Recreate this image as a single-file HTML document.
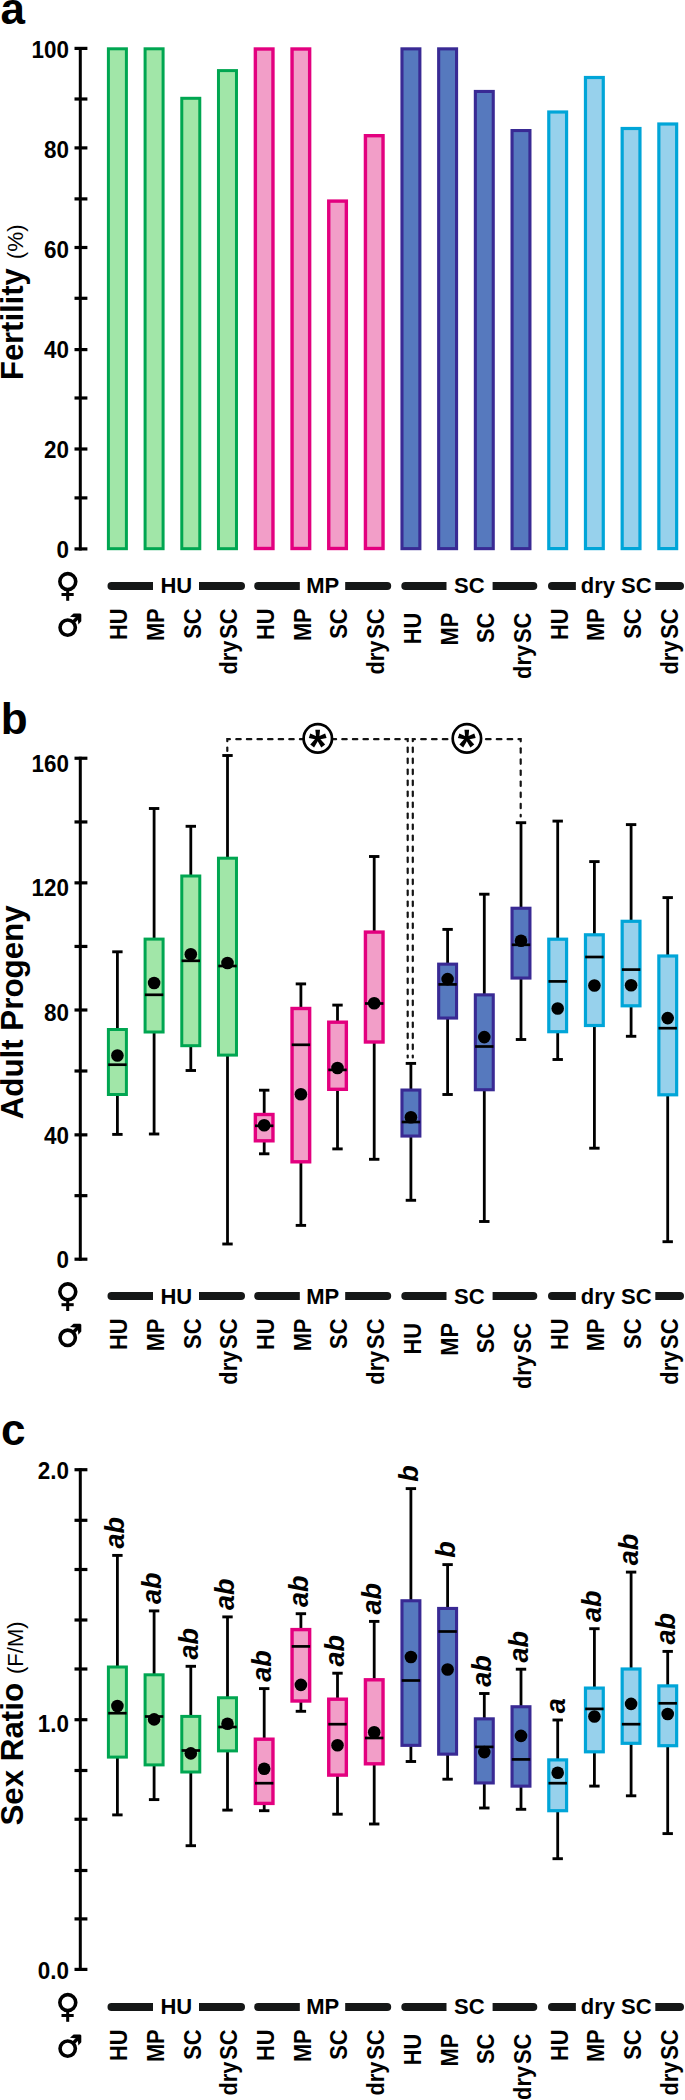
<!DOCTYPE html>
<html><head><meta charset="utf-8"><title>Figure</title><style>html,body{margin:0;padding:0;background:#fff;width:685px;height:2100px;overflow:hidden}svg{display:block}</style></head><body>
<svg width="685" height="2100" viewBox="0 0 685 2100">
<rect width="685" height="2100" fill="#fff"/>
<text x="0.6" y="23.6" style="font-family:'Liberation Sans',sans-serif;font-weight:bold;font-size:44px" fill="#000">a</text>
<text x="0.8" y="733.8" style="font-family:'Liberation Sans',sans-serif;font-weight:bold;font-size:44px" fill="#000">b</text>
<text x="1.0" y="1445.2" style="font-family:'Liberation Sans',sans-serif;font-weight:bold;font-size:44px" fill="#000">c</text>
<line x1="80.3" y1="46.9" x2="80.3" y2="550.4" stroke="#000" stroke-width="3"/>
<line x1="74.5" y1="548.90" x2="87.4" y2="548.90" stroke="#000" stroke-width="3.2"/>
<line x1="74.5" y1="497.90" x2="87.4" y2="497.90" stroke="#000" stroke-width="3.2"/>
<line x1="74.5" y1="449.00" x2="87.4" y2="449.00" stroke="#000" stroke-width="3.2"/>
<line x1="74.5" y1="398.00" x2="87.4" y2="398.00" stroke="#000" stroke-width="3.2"/>
<line x1="74.5" y1="349.60" x2="87.4" y2="349.60" stroke="#000" stroke-width="3.2"/>
<line x1="74.5" y1="298.30" x2="87.4" y2="298.30" stroke="#000" stroke-width="3.2"/>
<line x1="74.5" y1="247.50" x2="87.4" y2="247.50" stroke="#000" stroke-width="3.2"/>
<line x1="74.5" y1="198.90" x2="87.4" y2="198.90" stroke="#000" stroke-width="3.2"/>
<line x1="74.5" y1="147.90" x2="87.4" y2="147.90" stroke="#000" stroke-width="3.2"/>
<line x1="74.5" y1="99.00" x2="87.4" y2="99.00" stroke="#000" stroke-width="3.2"/>
<line x1="74.5" y1="48.40" x2="87.4" y2="48.40" stroke="#000" stroke-width="3.2"/>
<text transform="translate(68.9,558.4) scale(0.955,1)" text-anchor="end" style="font-family:'Liberation Sans',sans-serif;font-weight:bold;font-size:23.5px" fill="#000">0</text>
<text transform="translate(68.9,458.3) scale(0.955,1)" text-anchor="end" style="font-family:'Liberation Sans',sans-serif;font-weight:bold;font-size:23.5px" fill="#000">20</text>
<text transform="translate(68.9,358.2) scale(0.955,1)" text-anchor="end" style="font-family:'Liberation Sans',sans-serif;font-weight:bold;font-size:23.5px" fill="#000">40</text>
<text transform="translate(68.9,258.2) scale(0.955,1)" text-anchor="end" style="font-family:'Liberation Sans',sans-serif;font-weight:bold;font-size:23.5px" fill="#000">60</text>
<text transform="translate(68.9,158.1) scale(0.955,1)" text-anchor="end" style="font-family:'Liberation Sans',sans-serif;font-weight:bold;font-size:23.5px" fill="#000">80</text>
<text transform="translate(68.9,58.0) scale(0.955,1)" text-anchor="end" style="font-family:'Liberation Sans',sans-serif;font-weight:bold;font-size:23.5px" fill="#000">100</text>
<text transform="translate(22.6,380.0) rotate(-90) scale(0.982,1)" style="font-family:'Liberation Sans',sans-serif;font-weight:bold;font-size:31.5px" fill="#000">Fertility</text>
<text transform="translate(22.6,259.2) rotate(-90)" style="font-family:'Liberation Sans',sans-serif;font-size:22.5px" fill="#000">(%)</text>
<rect x="108.40" y="48.80" width="18.00" height="499.90" fill="#a1e6a8" stroke="#00a651" stroke-width="3.0"/>
<rect x="145.09" y="48.80" width="18.00" height="499.90" fill="#a1e6a8" stroke="#00a651" stroke-width="3.0"/>
<rect x="181.78" y="98.30" width="18.00" height="450.40" fill="#a1e6a8" stroke="#00a651" stroke-width="3.0"/>
<rect x="218.47" y="70.60" width="18.00" height="478.10" fill="#a1e6a8" stroke="#00a651" stroke-width="3.0"/>
<rect x="255.36" y="49.00" width="17.60" height="499.50" fill="#f29ec8" stroke="#e3007f" stroke-width="3.4"/>
<rect x="292.05" y="49.00" width="17.60" height="499.50" fill="#f29ec8" stroke="#e3007f" stroke-width="3.4"/>
<rect x="328.74" y="201.10" width="17.60" height="347.40" fill="#f29ec8" stroke="#e3007f" stroke-width="3.4"/>
<rect x="365.43" y="135.70" width="17.60" height="412.80" fill="#f29ec8" stroke="#e3007f" stroke-width="3.4"/>
<rect x="401.97" y="48.85" width="17.90" height="499.80" fill="#5679be" stroke="#392a94" stroke-width="3.1"/>
<rect x="438.66" y="48.85" width="17.90" height="499.80" fill="#5679be" stroke="#392a94" stroke-width="3.1"/>
<rect x="475.35" y="91.45" width="17.90" height="457.20" fill="#5679be" stroke="#392a94" stroke-width="3.1"/>
<rect x="512.04" y="130.55" width="17.90" height="418.10" fill="#5679be" stroke="#392a94" stroke-width="3.1"/>
<rect x="548.78" y="112.00" width="17.80" height="436.60" fill="#97d1ec" stroke="#00a5d8" stroke-width="3.2"/>
<rect x="585.47" y="77.50" width="17.80" height="471.10" fill="#97d1ec" stroke="#00a5d8" stroke-width="3.2"/>
<rect x="622.16" y="128.50" width="17.80" height="420.10" fill="#97d1ec" stroke="#00a5d8" stroke-width="3.2"/>
<rect x="658.85" y="124.00" width="17.80" height="424.60" fill="#97d1ec" stroke="#00a5d8" stroke-width="3.2"/>
<circle cx="67.8" cy="581.6" r="7.95" fill="none" stroke="#000" stroke-width="3.6"/>
<line x1="67.7" y1="590.6" x2="67.7" y2="600.8000000000001" stroke="#000" stroke-width="3"/>
<line x1="61.5" y1="594.5" x2="73.7" y2="594.5" stroke="#000" stroke-width="3"/>
<circle cx="67.7" cy="627.6" r="7.65" fill="none" stroke="#000" stroke-width="3.6"/>
<line x1="72.30" y1="623.00" x2="79.30" y2="616.00" stroke="#000" stroke-width="3.5"/>
<path d="M70.00 616.70 L73.60 613.50 L80.30 613.50 L81.30 614.50 L81.30 621.30 L78.40 624.50 L77.60 617.60 Z" fill="#000"/>
<path d="M153.0 581.9 L111.5 581.9 A4.0 4.0 0 0 0 111.5 589.9 L153.0 589.9 Z" fill="#151717"/>
<path d="M199.0 581.9 L241.0 581.9 A4.0 4.0 0 0 1 241.0 589.9 L199.0 589.9 Z" fill="#151717"/>
<text x="176.3" y="593.4" text-anchor="middle" style="font-family:'Liberation Sans',sans-serif;font-weight:bold;font-size:22px" fill="#000">HU</text>
<path d="M299.8 581.9 L258.2 581.9 A4.0 4.0 0 0 0 258.2 589.9 L299.8 589.9 Z" fill="#151717"/>
<path d="M345.2 581.9 L387.2 581.9 A4.0 4.0 0 0 1 387.2 589.9 L345.2 589.9 Z" fill="#151717"/>
<text x="322.65" y="593.4" text-anchor="middle" style="font-family:'Liberation Sans',sans-serif;font-weight:bold;font-size:22px" fill="#000">MP</text>
<path d="M446.5 581.9 L405.3 581.9 A4.0 4.0 0 0 0 405.3 589.9 L446.5 589.9 Z" fill="#151717"/>
<path d="M492.6 581.9 L533.3 581.9 A4.0 4.0 0 0 1 533.3 589.9 L492.6 589.9 Z" fill="#151717"/>
<text x="469.3" y="593.4" text-anchor="middle" style="font-family:'Liberation Sans',sans-serif;font-weight:bold;font-size:22px" fill="#000">SC</text>
<path d="M575.9 581.9 L552.0 581.9 A4.0 4.0 0 0 0 552.0 589.9 L575.9 589.9 Z" fill="#151717"/>
<path d="M655.3 581.9 L680.0 581.9 A4.0 4.0 0 0 1 680.0 589.9 L655.3 589.9 Z" fill="#151717"/>
<text x="616.15" y="593.4" text-anchor="middle" style="font-family:'Liberation Sans',sans-serif;font-weight:bold;font-size:22px" fill="#000">dry SC</text>
<text transform="translate(127.3,608.4) rotate(-90) scale(0.94,1)" text-anchor="end" style="font-family:'Liberation Sans',sans-serif;font-weight:bold;font-size:23.2px" fill="#000">HU</text>
<text transform="translate(164.0,608.4) rotate(-90) scale(0.94,1)" text-anchor="end" style="font-family:'Liberation Sans',sans-serif;font-weight:bold;font-size:23.2px" fill="#000">MP</text>
<text transform="translate(200.7,608.4) rotate(-90) scale(0.94,1)" text-anchor="end" style="font-family:'Liberation Sans',sans-serif;font-weight:bold;font-size:23.2px" fill="#000">SC</text>
<text transform="translate(237.4,608.4) rotate(-90) scale(0.94,1)" text-anchor="end" style="font-family:'Liberation Sans',sans-serif;font-weight:bold;font-size:23.2px" fill="#000">dry<tspan dx="2">SC</tspan></text>
<text transform="translate(274.1,608.4) rotate(-90) scale(0.94,1)" text-anchor="end" style="font-family:'Liberation Sans',sans-serif;font-weight:bold;font-size:23.2px" fill="#000">HU</text>
<text transform="translate(310.8,608.4) rotate(-90) scale(0.94,1)" text-anchor="end" style="font-family:'Liberation Sans',sans-serif;font-weight:bold;font-size:23.2px" fill="#000">MP</text>
<text transform="translate(347.4,608.4) rotate(-90) scale(0.94,1)" text-anchor="end" style="font-family:'Liberation Sans',sans-serif;font-weight:bold;font-size:23.2px" fill="#000">SC</text>
<text transform="translate(384.1,608.4) rotate(-90) scale(0.94,1)" text-anchor="end" style="font-family:'Liberation Sans',sans-serif;font-weight:bold;font-size:23.2px" fill="#000">dry<tspan dx="2">SC</tspan></text>
<text transform="translate(420.8,612.8) rotate(-90) scale(0.94,1)" text-anchor="end" style="font-family:'Liberation Sans',sans-serif;font-weight:bold;font-size:23.2px" fill="#000">HU</text>
<text transform="translate(457.5,612.8) rotate(-90) scale(0.94,1)" text-anchor="end" style="font-family:'Liberation Sans',sans-serif;font-weight:bold;font-size:23.2px" fill="#000">MP</text>
<text transform="translate(494.2,612.8) rotate(-90) scale(0.94,1)" text-anchor="end" style="font-family:'Liberation Sans',sans-serif;font-weight:bold;font-size:23.2px" fill="#000">SC</text>
<text transform="translate(530.9,612.8) rotate(-90) scale(0.94,1)" text-anchor="end" style="font-family:'Liberation Sans',sans-serif;font-weight:bold;font-size:23.2px" fill="#000">dry<tspan dx="2">SC</tspan></text>
<text transform="translate(567.6,608.4) rotate(-90) scale(0.94,1)" text-anchor="end" style="font-family:'Liberation Sans',sans-serif;font-weight:bold;font-size:23.2px" fill="#000">HU</text>
<text transform="translate(604.3,608.4) rotate(-90) scale(0.94,1)" text-anchor="end" style="font-family:'Liberation Sans',sans-serif;font-weight:bold;font-size:23.2px" fill="#000">MP</text>
<text transform="translate(641.0,608.4) rotate(-90) scale(0.94,1)" text-anchor="end" style="font-family:'Liberation Sans',sans-serif;font-weight:bold;font-size:23.2px" fill="#000">SC</text>
<text transform="translate(677.6,608.4) rotate(-90) scale(0.94,1)" text-anchor="end" style="font-family:'Liberation Sans',sans-serif;font-weight:bold;font-size:23.2px" fill="#000">dry<tspan dx="2">SC</tspan></text>
<line x1="80.3" y1="756.8" x2="80.3" y2="1260.7" stroke="#000" stroke-width="3"/>
<line x1="74.5" y1="1259.20" x2="87.4" y2="1259.20" stroke="#000" stroke-width="3.2"/>
<line x1="74.5" y1="1195.66" x2="87.4" y2="1195.66" stroke="#000" stroke-width="3.2"/>
<line x1="74.5" y1="1134.85" x2="87.4" y2="1134.85" stroke="#000" stroke-width="3.2"/>
<line x1="74.5" y1="1071.00" x2="87.4" y2="1071.00" stroke="#000" stroke-width="3.2"/>
<line x1="74.5" y1="1010.00" x2="87.4" y2="1010.00" stroke="#000" stroke-width="3.2"/>
<line x1="74.5" y1="946.45" x2="87.4" y2="946.45" stroke="#000" stroke-width="3.2"/>
<line x1="74.5" y1="882.85" x2="87.4" y2="882.85" stroke="#000" stroke-width="3.2"/>
<line x1="74.5" y1="821.95" x2="87.4" y2="821.95" stroke="#000" stroke-width="3.2"/>
<line x1="74.5" y1="758.25" x2="87.4" y2="758.25" stroke="#000" stroke-width="3.2"/>
<text transform="translate(68.9,771.9) scale(0.955,1)" text-anchor="end" style="font-family:'Liberation Sans',sans-serif;font-weight:bold;font-size:23.5px" fill="#000">160</text>
<text transform="translate(68.9,896.3) scale(0.955,1)" text-anchor="end" style="font-family:'Liberation Sans',sans-serif;font-weight:bold;font-size:23.5px" fill="#000">120</text>
<text transform="translate(68.9,1020.5) scale(0.955,1)" text-anchor="end" style="font-family:'Liberation Sans',sans-serif;font-weight:bold;font-size:23.5px" fill="#000">80</text>
<text transform="translate(68.9,1144.4) scale(0.955,1)" text-anchor="end" style="font-family:'Liberation Sans',sans-serif;font-weight:bold;font-size:23.5px" fill="#000">40</text>
<text transform="translate(68.9,1268.3) scale(0.955,1)" text-anchor="end" style="font-family:'Liberation Sans',sans-serif;font-weight:bold;font-size:23.5px" fill="#000">0</text>
<text transform="translate(22.9,1119.3) rotate(-90)" style="font-family:'Liberation Sans',sans-serif;font-weight:bold;font-size:31.3px" fill="#000">Adult Progeny</text>
<path d="M229.9 739.2 L227.3 739.2 L227.3 741.1999999999999" fill="none" stroke="#141414" stroke-width="2.2" stroke-linecap="round"/>
<line x1="227.3" y1="747.50" x2="227.3" y2="750.90" stroke="#141414" stroke-width="2.2" stroke-linecap="round"/>
<line x1="236.30" y1="739.2" x2="240.70" y2="739.2" stroke="#141414" stroke-width="2.2" stroke-linecap="round"/>
<line x1="246.90" y1="739.2" x2="251.30" y2="739.2" stroke="#141414" stroke-width="2.2" stroke-linecap="round"/>
<line x1="257.50" y1="739.2" x2="261.90" y2="739.2" stroke="#141414" stroke-width="2.2" stroke-linecap="round"/>
<line x1="268.10" y1="739.2" x2="272.50" y2="739.2" stroke="#141414" stroke-width="2.2" stroke-linecap="round"/>
<line x1="278.70" y1="739.2" x2="283.10" y2="739.2" stroke="#141414" stroke-width="2.2" stroke-linecap="round"/>
<line x1="289.30" y1="739.2" x2="293.70" y2="739.2" stroke="#141414" stroke-width="2.2" stroke-linecap="round"/>
<line x1="299.90" y1="739.2" x2="304.30" y2="739.2" stroke="#141414" stroke-width="2.2" stroke-linecap="round"/>
<line x1="310.50" y1="739.2" x2="314.90" y2="739.2" stroke="#141414" stroke-width="2.2" stroke-linecap="round"/>
<line x1="321.10" y1="739.2" x2="325.50" y2="739.2" stroke="#141414" stroke-width="2.2" stroke-linecap="round"/>
<line x1="331.70" y1="739.2" x2="336.10" y2="739.2" stroke="#141414" stroke-width="2.2" stroke-linecap="round"/>
<line x1="342.30" y1="739.2" x2="346.70" y2="739.2" stroke="#141414" stroke-width="2.2" stroke-linecap="round"/>
<line x1="352.90" y1="739.2" x2="357.30" y2="739.2" stroke="#141414" stroke-width="2.2" stroke-linecap="round"/>
<line x1="363.50" y1="739.2" x2="367.90" y2="739.2" stroke="#141414" stroke-width="2.2" stroke-linecap="round"/>
<line x1="374.10" y1="739.2" x2="378.50" y2="739.2" stroke="#141414" stroke-width="2.2" stroke-linecap="round"/>
<line x1="384.70" y1="739.2" x2="389.10" y2="739.2" stroke="#141414" stroke-width="2.2" stroke-linecap="round"/>
<line x1="395.30" y1="739.2" x2="399.70" y2="739.2" stroke="#141414" stroke-width="2.2" stroke-linecap="round"/>
<path d="M405.40000000000003 739.2 L407.7 739.2 L407.7 741.1999999999999" fill="none" stroke="#141414" stroke-width="2.2" stroke-linecap="round"/>
<line x1="407.7" y1="747.60" x2="407.7" y2="752.10" stroke="#141414" stroke-width="2.2" stroke-linecap="round"/>
<line x1="407.7" y1="758.60" x2="407.7" y2="763.10" stroke="#141414" stroke-width="2.2" stroke-linecap="round"/>
<line x1="407.7" y1="769.60" x2="407.7" y2="774.10" stroke="#141414" stroke-width="2.2" stroke-linecap="round"/>
<line x1="407.7" y1="780.60" x2="407.7" y2="785.10" stroke="#141414" stroke-width="2.2" stroke-linecap="round"/>
<line x1="407.7" y1="791.60" x2="407.7" y2="796.10" stroke="#141414" stroke-width="2.2" stroke-linecap="round"/>
<line x1="407.7" y1="802.60" x2="407.7" y2="807.10" stroke="#141414" stroke-width="2.2" stroke-linecap="round"/>
<line x1="407.7" y1="813.60" x2="407.7" y2="818.10" stroke="#141414" stroke-width="2.2" stroke-linecap="round"/>
<line x1="407.7" y1="824.60" x2="407.7" y2="829.10" stroke="#141414" stroke-width="2.2" stroke-linecap="round"/>
<line x1="407.7" y1="835.60" x2="407.7" y2="840.10" stroke="#141414" stroke-width="2.2" stroke-linecap="round"/>
<line x1="407.7" y1="846.60" x2="407.7" y2="851.10" stroke="#141414" stroke-width="2.2" stroke-linecap="round"/>
<line x1="407.7" y1="857.60" x2="407.7" y2="862.10" stroke="#141414" stroke-width="2.2" stroke-linecap="round"/>
<line x1="407.7" y1="868.60" x2="407.7" y2="873.10" stroke="#141414" stroke-width="2.2" stroke-linecap="round"/>
<line x1="407.7" y1="879.60" x2="407.7" y2="884.10" stroke="#141414" stroke-width="2.2" stroke-linecap="round"/>
<line x1="407.7" y1="890.60" x2="407.7" y2="895.10" stroke="#141414" stroke-width="2.2" stroke-linecap="round"/>
<line x1="407.7" y1="901.60" x2="407.7" y2="906.10" stroke="#141414" stroke-width="2.2" stroke-linecap="round"/>
<line x1="407.7" y1="912.60" x2="407.7" y2="917.10" stroke="#141414" stroke-width="2.2" stroke-linecap="round"/>
<line x1="407.7" y1="923.60" x2="407.7" y2="928.10" stroke="#141414" stroke-width="2.2" stroke-linecap="round"/>
<line x1="407.7" y1="934.60" x2="407.7" y2="939.10" stroke="#141414" stroke-width="2.2" stroke-linecap="round"/>
<line x1="407.7" y1="945.60" x2="407.7" y2="950.10" stroke="#141414" stroke-width="2.2" stroke-linecap="round"/>
<line x1="407.7" y1="956.60" x2="407.7" y2="961.10" stroke="#141414" stroke-width="2.2" stroke-linecap="round"/>
<line x1="407.7" y1="967.60" x2="407.7" y2="972.10" stroke="#141414" stroke-width="2.2" stroke-linecap="round"/>
<line x1="407.7" y1="978.60" x2="407.7" y2="983.10" stroke="#141414" stroke-width="2.2" stroke-linecap="round"/>
<line x1="407.7" y1="989.60" x2="407.7" y2="994.10" stroke="#141414" stroke-width="2.2" stroke-linecap="round"/>
<line x1="407.7" y1="1000.60" x2="407.7" y2="1005.10" stroke="#141414" stroke-width="2.2" stroke-linecap="round"/>
<line x1="407.7" y1="1011.60" x2="407.7" y2="1016.10" stroke="#141414" stroke-width="2.2" stroke-linecap="round"/>
<line x1="407.7" y1="1022.60" x2="407.7" y2="1027.10" stroke="#141414" stroke-width="2.2" stroke-linecap="round"/>
<line x1="407.7" y1="1033.60" x2="407.7" y2="1038.10" stroke="#141414" stroke-width="2.2" stroke-linecap="round"/>
<line x1="407.7" y1="1044.60" x2="407.7" y2="1049.10" stroke="#141414" stroke-width="2.2" stroke-linecap="round"/>
<line x1="407.7" y1="1055.60" x2="407.7" y2="1057.50" stroke="#141414" stroke-width="2.2" stroke-linecap="round"/>
<path d="M414.9 739.2 L412.8 739.2 L412.8 741.1999999999999" fill="none" stroke="#141414" stroke-width="2.2" stroke-linecap="round"/>
<line x1="412.8" y1="747.60" x2="412.8" y2="752.10" stroke="#141414" stroke-width="2.2" stroke-linecap="round"/>
<line x1="412.8" y1="758.60" x2="412.8" y2="763.10" stroke="#141414" stroke-width="2.2" stroke-linecap="round"/>
<line x1="412.8" y1="769.60" x2="412.8" y2="774.10" stroke="#141414" stroke-width="2.2" stroke-linecap="round"/>
<line x1="412.8" y1="780.60" x2="412.8" y2="785.10" stroke="#141414" stroke-width="2.2" stroke-linecap="round"/>
<line x1="412.8" y1="791.60" x2="412.8" y2="796.10" stroke="#141414" stroke-width="2.2" stroke-linecap="round"/>
<line x1="412.8" y1="802.60" x2="412.8" y2="807.10" stroke="#141414" stroke-width="2.2" stroke-linecap="round"/>
<line x1="412.8" y1="813.60" x2="412.8" y2="818.10" stroke="#141414" stroke-width="2.2" stroke-linecap="round"/>
<line x1="412.8" y1="824.60" x2="412.8" y2="829.10" stroke="#141414" stroke-width="2.2" stroke-linecap="round"/>
<line x1="412.8" y1="835.60" x2="412.8" y2="840.10" stroke="#141414" stroke-width="2.2" stroke-linecap="round"/>
<line x1="412.8" y1="846.60" x2="412.8" y2="851.10" stroke="#141414" stroke-width="2.2" stroke-linecap="round"/>
<line x1="412.8" y1="857.60" x2="412.8" y2="862.10" stroke="#141414" stroke-width="2.2" stroke-linecap="round"/>
<line x1="412.8" y1="868.60" x2="412.8" y2="873.10" stroke="#141414" stroke-width="2.2" stroke-linecap="round"/>
<line x1="412.8" y1="879.60" x2="412.8" y2="884.10" stroke="#141414" stroke-width="2.2" stroke-linecap="round"/>
<line x1="412.8" y1="890.60" x2="412.8" y2="895.10" stroke="#141414" stroke-width="2.2" stroke-linecap="round"/>
<line x1="412.8" y1="901.60" x2="412.8" y2="906.10" stroke="#141414" stroke-width="2.2" stroke-linecap="round"/>
<line x1="412.8" y1="912.60" x2="412.8" y2="917.10" stroke="#141414" stroke-width="2.2" stroke-linecap="round"/>
<line x1="412.8" y1="923.60" x2="412.8" y2="928.10" stroke="#141414" stroke-width="2.2" stroke-linecap="round"/>
<line x1="412.8" y1="934.60" x2="412.8" y2="939.10" stroke="#141414" stroke-width="2.2" stroke-linecap="round"/>
<line x1="412.8" y1="945.60" x2="412.8" y2="950.10" stroke="#141414" stroke-width="2.2" stroke-linecap="round"/>
<line x1="412.8" y1="956.60" x2="412.8" y2="961.10" stroke="#141414" stroke-width="2.2" stroke-linecap="round"/>
<line x1="412.8" y1="967.60" x2="412.8" y2="972.10" stroke="#141414" stroke-width="2.2" stroke-linecap="round"/>
<line x1="412.8" y1="978.60" x2="412.8" y2="983.10" stroke="#141414" stroke-width="2.2" stroke-linecap="round"/>
<line x1="412.8" y1="989.60" x2="412.8" y2="994.10" stroke="#141414" stroke-width="2.2" stroke-linecap="round"/>
<line x1="412.8" y1="1000.60" x2="412.8" y2="1005.10" stroke="#141414" stroke-width="2.2" stroke-linecap="round"/>
<line x1="412.8" y1="1011.60" x2="412.8" y2="1016.10" stroke="#141414" stroke-width="2.2" stroke-linecap="round"/>
<line x1="412.8" y1="1022.60" x2="412.8" y2="1027.10" stroke="#141414" stroke-width="2.2" stroke-linecap="round"/>
<line x1="412.8" y1="1033.60" x2="412.8" y2="1038.10" stroke="#141414" stroke-width="2.2" stroke-linecap="round"/>
<line x1="412.8" y1="1044.60" x2="412.8" y2="1049.10" stroke="#141414" stroke-width="2.2" stroke-linecap="round"/>
<line x1="412.8" y1="1055.60" x2="412.8" y2="1057.50" stroke="#141414" stroke-width="2.2" stroke-linecap="round"/>
<line x1="421.20" y1="739.2" x2="425.80" y2="739.2" stroke="#141414" stroke-width="2.2" stroke-linecap="round"/>
<line x1="432.00" y1="739.2" x2="436.60" y2="739.2" stroke="#141414" stroke-width="2.2" stroke-linecap="round"/>
<line x1="442.80" y1="739.2" x2="447.40" y2="739.2" stroke="#141414" stroke-width="2.2" stroke-linecap="round"/>
<line x1="453.60" y1="739.2" x2="458.20" y2="739.2" stroke="#141414" stroke-width="2.2" stroke-linecap="round"/>
<line x1="464.40" y1="739.2" x2="469.00" y2="739.2" stroke="#141414" stroke-width="2.2" stroke-linecap="round"/>
<line x1="475.20" y1="739.2" x2="479.80" y2="739.2" stroke="#141414" stroke-width="2.2" stroke-linecap="round"/>
<line x1="486.00" y1="739.2" x2="490.60" y2="739.2" stroke="#141414" stroke-width="2.2" stroke-linecap="round"/>
<line x1="496.80" y1="739.2" x2="501.40" y2="739.2" stroke="#141414" stroke-width="2.2" stroke-linecap="round"/>
<line x1="507.60" y1="739.2" x2="512.20" y2="739.2" stroke="#141414" stroke-width="2.2" stroke-linecap="round"/>
<path d="M518.5 739.2 L520.7 739.2 L520.7 741.3" fill="none" stroke="#141414" stroke-width="2.2" stroke-linecap="round"/>
<line x1="520.7" y1="748.30" x2="520.7" y2="752.70" stroke="#141414" stroke-width="2.2" stroke-linecap="round"/>
<line x1="520.7" y1="759.40" x2="520.7" y2="763.80" stroke="#141414" stroke-width="2.2" stroke-linecap="round"/>
<line x1="520.7" y1="770.50" x2="520.7" y2="774.90" stroke="#141414" stroke-width="2.2" stroke-linecap="round"/>
<line x1="520.7" y1="781.60" x2="520.7" y2="786.00" stroke="#141414" stroke-width="2.2" stroke-linecap="round"/>
<line x1="520.7" y1="792.70" x2="520.7" y2="797.10" stroke="#141414" stroke-width="2.2" stroke-linecap="round"/>
<line x1="520.7" y1="803.80" x2="520.7" y2="808.20" stroke="#141414" stroke-width="2.2" stroke-linecap="round"/>
<line x1="520.7" y1="814.90" x2="520.7" y2="816.50" stroke="#141414" stroke-width="2.2" stroke-linecap="round"/>
<circle cx="317.8" cy="738.4" r="14.2" fill="#fff" stroke="#000" stroke-width="2.7"/>
<path d="M319.20 738.40 L320.05 729.70 L315.35 729.70 L316.20 738.40 Z" fill="#000"/>
<path d="M318.16 739.83 L326.61 737.98 L325.15 733.51 L317.24 736.97 Z" fill="#000"/>
<path d="M318.16 736.97 L310.25 733.51 L308.79 737.98 L317.24 739.83 Z" fill="#000"/>
<path d="M316.49 739.28 L321.32 747.39 L325.13 744.62 L318.91 737.52 Z" fill="#000"/>
<path d="M316.49 737.52 L310.27 744.62 L314.08 747.39 L318.91 739.28 Z" fill="#000"/>
<circle cx="317.7" cy="738.4" r="2" fill="#000"/>
<circle cx="466.9" cy="738.4" r="14.2" fill="#fff" stroke="#000" stroke-width="2.7"/>
<path d="M468.30 738.40 L469.15 729.70 L464.45 729.70 L465.30 738.40 Z" fill="#000"/>
<path d="M467.26 739.83 L475.71 737.98 L474.25 733.51 L466.34 736.97 Z" fill="#000"/>
<path d="M467.26 736.97 L459.35 733.51 L457.89 737.98 L466.34 739.83 Z" fill="#000"/>
<path d="M465.59 739.28 L470.42 747.39 L474.23 744.62 L468.01 737.52 Z" fill="#000"/>
<path d="M465.59 737.52 L459.37 744.62 L463.18 747.39 L468.01 739.28 Z" fill="#000"/>
<circle cx="466.79999999999995" cy="738.4" r="2" fill="#000"/>
<line x1="117.4" y1="951.8" x2="117.4" y2="1029.0" stroke="#000" stroke-width="2.8"/>
<line x1="117.4" y1="1095.0" x2="117.4" y2="1134.4" stroke="#000" stroke-width="2.8"/>
<line x1="112.2" y1="951.8" x2="122.6" y2="951.8" stroke="#000" stroke-width="2.9"/>
<line x1="112.2" y1="1134.4" x2="122.6" y2="1134.4" stroke="#000" stroke-width="2.9"/>
<rect x="108.40" y="1029.50" width="18.00" height="65.00" fill="#a1e6a8" stroke="#00a651" stroke-width="3.0"/>
<line x1="108.2" y1="1064.7" x2="126.6" y2="1064.7" stroke="#000" stroke-width="2.7"/>
<circle cx="117.4" cy="1055.5" r="6.3" fill="#000"/>
<line x1="154.1" y1="808.5" x2="154.1" y2="938.6" stroke="#000" stroke-width="2.8"/>
<line x1="154.1" y1="1032.5" x2="154.1" y2="1134.0" stroke="#000" stroke-width="2.8"/>
<line x1="148.9" y1="808.5" x2="159.3" y2="808.5" stroke="#000" stroke-width="2.9"/>
<line x1="148.9" y1="1134.0" x2="159.3" y2="1134.0" stroke="#000" stroke-width="2.9"/>
<rect x="145.09" y="939.10" width="18.00" height="92.90" fill="#a1e6a8" stroke="#00a651" stroke-width="3.0"/>
<line x1="144.9" y1="994.8" x2="163.3" y2="994.8" stroke="#000" stroke-width="2.7"/>
<circle cx="154.1" cy="983.0" r="6.3" fill="#000"/>
<line x1="190.8" y1="826.3" x2="190.8" y2="875.5" stroke="#000" stroke-width="2.8"/>
<line x1="190.8" y1="1046.2" x2="190.8" y2="1070.5" stroke="#000" stroke-width="2.8"/>
<line x1="185.6" y1="826.3" x2="196.0" y2="826.3" stroke="#000" stroke-width="2.9"/>
<line x1="185.6" y1="1070.5" x2="196.0" y2="1070.5" stroke="#000" stroke-width="2.9"/>
<rect x="181.78" y="876.00" width="18.00" height="169.70" fill="#a1e6a8" stroke="#00a651" stroke-width="3.0"/>
<line x1="181.6" y1="960.8" x2="200.0" y2="960.8" stroke="#000" stroke-width="2.7"/>
<circle cx="190.8" cy="954.3" r="6.3" fill="#000"/>
<line x1="227.5" y1="755.5" x2="227.5" y2="857.7" stroke="#000" stroke-width="2.8"/>
<line x1="227.5" y1="1055.6" x2="227.5" y2="1244.0" stroke="#000" stroke-width="2.8"/>
<line x1="222.3" y1="755.5" x2="232.7" y2="755.5" stroke="#000" stroke-width="2.9"/>
<line x1="222.3" y1="1244.0" x2="232.7" y2="1244.0" stroke="#000" stroke-width="2.9"/>
<rect x="218.47" y="858.20" width="18.00" height="196.90" fill="#a1e6a8" stroke="#00a651" stroke-width="3.0"/>
<line x1="218.3" y1="966.0" x2="236.7" y2="966.0" stroke="#000" stroke-width="2.7"/>
<circle cx="227.5" cy="963.0" r="6.3" fill="#000"/>
<line x1="264.2" y1="1090.2" x2="264.2" y2="1113.8" stroke="#000" stroke-width="2.8"/>
<line x1="264.2" y1="1141.5" x2="264.2" y2="1153.8" stroke="#000" stroke-width="2.8"/>
<line x1="259.0" y1="1090.2" x2="269.4" y2="1090.2" stroke="#000" stroke-width="2.9"/>
<line x1="259.0" y1="1153.8" x2="269.4" y2="1153.8" stroke="#000" stroke-width="2.9"/>
<rect x="255.36" y="1114.50" width="17.60" height="26.30" fill="#f29ec8" stroke="#e3007f" stroke-width="3.4"/>
<line x1="255.0" y1="1125.8" x2="273.4" y2="1125.8" stroke="#000" stroke-width="2.7"/>
<circle cx="264.2" cy="1125.3" r="6.3" fill="#000"/>
<line x1="300.9" y1="983.9" x2="300.9" y2="1007.8" stroke="#000" stroke-width="2.8"/>
<line x1="300.9" y1="1162.5" x2="300.9" y2="1225.4" stroke="#000" stroke-width="2.8"/>
<line x1="295.7" y1="983.9" x2="306.1" y2="983.9" stroke="#000" stroke-width="2.9"/>
<line x1="295.7" y1="1225.4" x2="306.1" y2="1225.4" stroke="#000" stroke-width="2.9"/>
<rect x="292.05" y="1008.50" width="17.60" height="153.30" fill="#f29ec8" stroke="#e3007f" stroke-width="3.4"/>
<line x1="291.7" y1="1044.8" x2="310.1" y2="1044.8" stroke="#000" stroke-width="2.7"/>
<circle cx="300.9" cy="1094.2" r="6.3" fill="#000"/>
<line x1="337.5" y1="1005.1" x2="337.5" y2="1021.5" stroke="#000" stroke-width="2.8"/>
<line x1="337.5" y1="1090.0" x2="337.5" y2="1148.9" stroke="#000" stroke-width="2.8"/>
<line x1="332.3" y1="1005.1" x2="342.7" y2="1005.1" stroke="#000" stroke-width="2.9"/>
<line x1="332.3" y1="1148.9" x2="342.7" y2="1148.9" stroke="#000" stroke-width="2.9"/>
<rect x="328.74" y="1022.20" width="17.60" height="67.10" fill="#f29ec8" stroke="#e3007f" stroke-width="3.4"/>
<line x1="328.3" y1="1069.9" x2="346.7" y2="1069.9" stroke="#000" stroke-width="2.7"/>
<circle cx="337.5" cy="1068.0" r="6.3" fill="#000"/>
<line x1="374.2" y1="856.5" x2="374.2" y2="931.4" stroke="#000" stroke-width="2.8"/>
<line x1="374.2" y1="1042.7" x2="374.2" y2="1159.3" stroke="#000" stroke-width="2.8"/>
<line x1="369.0" y1="856.5" x2="379.4" y2="856.5" stroke="#000" stroke-width="2.9"/>
<line x1="369.0" y1="1159.3" x2="379.4" y2="1159.3" stroke="#000" stroke-width="2.9"/>
<rect x="365.43" y="932.10" width="17.60" height="109.90" fill="#f29ec8" stroke="#e3007f" stroke-width="3.4"/>
<line x1="365.0" y1="1003.5" x2="383.4" y2="1003.5" stroke="#000" stroke-width="2.7"/>
<circle cx="374.2" cy="1003.2" r="6.3" fill="#000"/>
<line x1="410.9" y1="1063.4" x2="410.9" y2="1089.5" stroke="#000" stroke-width="2.8"/>
<line x1="410.9" y1="1136.6" x2="410.9" y2="1200.3" stroke="#000" stroke-width="2.8"/>
<line x1="405.7" y1="1063.4" x2="416.1" y2="1063.4" stroke="#000" stroke-width="2.9"/>
<line x1="405.7" y1="1200.3" x2="416.1" y2="1200.3" stroke="#000" stroke-width="2.9"/>
<rect x="401.97" y="1090.05" width="17.90" height="46.00" fill="#5679be" stroke="#392a94" stroke-width="3.1"/>
<line x1="401.7" y1="1122.0" x2="420.1" y2="1122.0" stroke="#000" stroke-width="2.7"/>
<circle cx="410.9" cy="1117.2" r="6.3" fill="#000"/>
<line x1="447.6" y1="929.4" x2="447.6" y2="963.6" stroke="#000" stroke-width="2.8"/>
<line x1="447.6" y1="1018.6" x2="447.6" y2="1094.5" stroke="#000" stroke-width="2.8"/>
<line x1="442.4" y1="929.4" x2="452.8" y2="929.4" stroke="#000" stroke-width="2.9"/>
<line x1="442.4" y1="1094.5" x2="452.8" y2="1094.5" stroke="#000" stroke-width="2.9"/>
<rect x="438.66" y="964.15" width="17.90" height="53.90" fill="#5679be" stroke="#392a94" stroke-width="3.1"/>
<line x1="438.4" y1="984.4" x2="456.8" y2="984.4" stroke="#000" stroke-width="2.7"/>
<circle cx="447.6" cy="979.1" r="6.3" fill="#000"/>
<line x1="484.3" y1="894.2" x2="484.3" y2="994.3" stroke="#000" stroke-width="2.8"/>
<line x1="484.3" y1="1090.3" x2="484.3" y2="1221.5" stroke="#000" stroke-width="2.8"/>
<line x1="479.1" y1="894.2" x2="489.5" y2="894.2" stroke="#000" stroke-width="2.9"/>
<line x1="479.1" y1="1221.5" x2="489.5" y2="1221.5" stroke="#000" stroke-width="2.9"/>
<rect x="475.35" y="994.85" width="17.90" height="94.90" fill="#5679be" stroke="#392a94" stroke-width="3.1"/>
<line x1="475.1" y1="1046.5" x2="493.5" y2="1046.5" stroke="#000" stroke-width="2.7"/>
<circle cx="484.3" cy="1037.1" r="6.3" fill="#000"/>
<line x1="521.0" y1="822.7" x2="521.0" y2="907.7" stroke="#000" stroke-width="2.8"/>
<line x1="521.0" y1="978.6" x2="521.0" y2="1039.5" stroke="#000" stroke-width="2.8"/>
<line x1="515.8" y1="822.7" x2="526.2" y2="822.7" stroke="#000" stroke-width="2.9"/>
<line x1="515.8" y1="1039.5" x2="526.2" y2="1039.5" stroke="#000" stroke-width="2.9"/>
<rect x="512.04" y="908.25" width="17.90" height="69.80" fill="#5679be" stroke="#392a94" stroke-width="3.1"/>
<line x1="511.8" y1="944.8" x2="530.2" y2="944.8" stroke="#000" stroke-width="2.7"/>
<circle cx="521.0" cy="940.7" r="6.3" fill="#000"/>
<line x1="557.7" y1="821.1" x2="557.7" y2="938.6" stroke="#000" stroke-width="2.8"/>
<line x1="557.7" y1="1032.3" x2="557.7" y2="1059.5" stroke="#000" stroke-width="2.8"/>
<line x1="552.5" y1="821.1" x2="562.9" y2="821.1" stroke="#000" stroke-width="2.9"/>
<line x1="552.5" y1="1059.5" x2="562.9" y2="1059.5" stroke="#000" stroke-width="2.9"/>
<rect x="548.78" y="939.20" width="17.80" height="92.50" fill="#97d1ec" stroke="#00a5d8" stroke-width="3.2"/>
<line x1="548.5" y1="981.4" x2="566.9" y2="981.4" stroke="#000" stroke-width="2.7"/>
<circle cx="557.7" cy="1008.5" r="6.3" fill="#000"/>
<line x1="594.4" y1="861.6" x2="594.4" y2="934.2" stroke="#000" stroke-width="2.8"/>
<line x1="594.4" y1="1026.1" x2="594.4" y2="1148.2" stroke="#000" stroke-width="2.8"/>
<line x1="589.2" y1="861.6" x2="599.6" y2="861.6" stroke="#000" stroke-width="2.9"/>
<line x1="589.2" y1="1148.2" x2="599.6" y2="1148.2" stroke="#000" stroke-width="2.9"/>
<rect x="585.47" y="934.80" width="17.80" height="90.70" fill="#97d1ec" stroke="#00a5d8" stroke-width="3.2"/>
<line x1="585.2" y1="957.0" x2="603.6" y2="957.0" stroke="#000" stroke-width="2.7"/>
<circle cx="594.4" cy="985.5" r="6.3" fill="#000"/>
<line x1="631.1" y1="824.6" x2="631.1" y2="920.7" stroke="#000" stroke-width="2.8"/>
<line x1="631.1" y1="1006.4" x2="631.1" y2="1036.3" stroke="#000" stroke-width="2.8"/>
<line x1="625.9" y1="824.6" x2="636.3" y2="824.6" stroke="#000" stroke-width="2.9"/>
<line x1="625.9" y1="1036.3" x2="636.3" y2="1036.3" stroke="#000" stroke-width="2.9"/>
<rect x="622.16" y="921.30" width="17.80" height="84.50" fill="#97d1ec" stroke="#00a5d8" stroke-width="3.2"/>
<line x1="621.9" y1="969.6" x2="640.3" y2="969.6" stroke="#000" stroke-width="2.7"/>
<circle cx="631.1" cy="985.2" r="6.3" fill="#000"/>
<line x1="667.7" y1="897.6" x2="667.7" y2="955.4" stroke="#000" stroke-width="2.8"/>
<line x1="667.7" y1="1095.4" x2="667.7" y2="1241.7" stroke="#000" stroke-width="2.8"/>
<line x1="662.5" y1="897.6" x2="672.9" y2="897.6" stroke="#000" stroke-width="2.9"/>
<line x1="662.5" y1="1241.7" x2="672.9" y2="1241.7" stroke="#000" stroke-width="2.9"/>
<rect x="658.85" y="956.00" width="17.80" height="138.80" fill="#97d1ec" stroke="#00a5d8" stroke-width="3.2"/>
<line x1="658.5" y1="1028.2" x2="676.9" y2="1028.2" stroke="#000" stroke-width="2.7"/>
<circle cx="667.7" cy="1018.1" r="6.3" fill="#000"/>
<circle cx="67.8" cy="1291.8000000000002" r="7.95" fill="none" stroke="#000" stroke-width="3.6"/>
<line x1="67.7" y1="1300.8000000000002" x2="67.7" y2="1311.0000000000002" stroke="#000" stroke-width="3"/>
<line x1="61.5" y1="1304.7000000000003" x2="73.7" y2="1304.7000000000003" stroke="#000" stroke-width="3"/>
<circle cx="67.7" cy="1337.8000000000002" r="7.65" fill="none" stroke="#000" stroke-width="3.6"/>
<line x1="72.30" y1="1333.20" x2="79.30" y2="1326.20" stroke="#000" stroke-width="3.5"/>
<path d="M70.00 1326.90 L73.60 1323.70 L80.30 1323.70 L81.30 1324.70 L81.30 1331.50 L78.40 1334.70 L77.60 1327.80 Z" fill="#000"/>
<path d="M153.0 1292.1 L111.5 1292.1 A4.0 4.0 0 0 0 111.5 1300.1 L153.0 1300.1 Z" fill="#151717"/>
<path d="M199.0 1292.1 L241.0 1292.1 A4.0 4.0 0 0 1 241.0 1300.1 L199.0 1300.1 Z" fill="#151717"/>
<text x="176.3" y="1303.6" text-anchor="middle" style="font-family:'Liberation Sans',sans-serif;font-weight:bold;font-size:22px" fill="#000">HU</text>
<path d="M299.8 1292.1 L258.2 1292.1 A4.0 4.0 0 0 0 258.2 1300.1 L299.8 1300.1 Z" fill="#151717"/>
<path d="M345.2 1292.1 L387.2 1292.1 A4.0 4.0 0 0 1 387.2 1300.1 L345.2 1300.1 Z" fill="#151717"/>
<text x="322.65" y="1303.6" text-anchor="middle" style="font-family:'Liberation Sans',sans-serif;font-weight:bold;font-size:22px" fill="#000">MP</text>
<path d="M446.5 1292.1 L405.3 1292.1 A4.0 4.0 0 0 0 405.3 1300.1 L446.5 1300.1 Z" fill="#151717"/>
<path d="M492.6 1292.1 L533.3 1292.1 A4.0 4.0 0 0 1 533.3 1300.1 L492.6 1300.1 Z" fill="#151717"/>
<text x="469.3" y="1303.6" text-anchor="middle" style="font-family:'Liberation Sans',sans-serif;font-weight:bold;font-size:22px" fill="#000">SC</text>
<path d="M575.9 1292.1 L552.0 1292.1 A4.0 4.0 0 0 0 552.0 1300.1 L575.9 1300.1 Z" fill="#151717"/>
<path d="M655.3 1292.1 L680.0 1292.1 A4.0 4.0 0 0 1 680.0 1300.1 L655.3 1300.1 Z" fill="#151717"/>
<text x="616.15" y="1303.6" text-anchor="middle" style="font-family:'Liberation Sans',sans-serif;font-weight:bold;font-size:22px" fill="#000">dry SC</text>
<text transform="translate(127.3,1318.6) rotate(-90) scale(0.94,1)" text-anchor="end" style="font-family:'Liberation Sans',sans-serif;font-weight:bold;font-size:23.2px" fill="#000">HU</text>
<text transform="translate(164.0,1318.6) rotate(-90) scale(0.94,1)" text-anchor="end" style="font-family:'Liberation Sans',sans-serif;font-weight:bold;font-size:23.2px" fill="#000">MP</text>
<text transform="translate(200.7,1318.6) rotate(-90) scale(0.94,1)" text-anchor="end" style="font-family:'Liberation Sans',sans-serif;font-weight:bold;font-size:23.2px" fill="#000">SC</text>
<text transform="translate(237.4,1318.6) rotate(-90) scale(0.94,1)" text-anchor="end" style="font-family:'Liberation Sans',sans-serif;font-weight:bold;font-size:23.2px" fill="#000">dry<tspan dx="2">SC</tspan></text>
<text transform="translate(274.1,1318.6) rotate(-90) scale(0.94,1)" text-anchor="end" style="font-family:'Liberation Sans',sans-serif;font-weight:bold;font-size:23.2px" fill="#000">HU</text>
<text transform="translate(310.8,1318.6) rotate(-90) scale(0.94,1)" text-anchor="end" style="font-family:'Liberation Sans',sans-serif;font-weight:bold;font-size:23.2px" fill="#000">MP</text>
<text transform="translate(347.4,1318.6) rotate(-90) scale(0.94,1)" text-anchor="end" style="font-family:'Liberation Sans',sans-serif;font-weight:bold;font-size:23.2px" fill="#000">SC</text>
<text transform="translate(384.1,1318.6) rotate(-90) scale(0.94,1)" text-anchor="end" style="font-family:'Liberation Sans',sans-serif;font-weight:bold;font-size:23.2px" fill="#000">dry<tspan dx="2">SC</tspan></text>
<text transform="translate(420.8,1323.0) rotate(-90) scale(0.94,1)" text-anchor="end" style="font-family:'Liberation Sans',sans-serif;font-weight:bold;font-size:23.2px" fill="#000">HU</text>
<text transform="translate(457.5,1323.0) rotate(-90) scale(0.94,1)" text-anchor="end" style="font-family:'Liberation Sans',sans-serif;font-weight:bold;font-size:23.2px" fill="#000">MP</text>
<text transform="translate(494.2,1323.0) rotate(-90) scale(0.94,1)" text-anchor="end" style="font-family:'Liberation Sans',sans-serif;font-weight:bold;font-size:23.2px" fill="#000">SC</text>
<text transform="translate(530.9,1323.0) rotate(-90) scale(0.94,1)" text-anchor="end" style="font-family:'Liberation Sans',sans-serif;font-weight:bold;font-size:23.2px" fill="#000">dry<tspan dx="2">SC</tspan></text>
<text transform="translate(567.6,1318.6) rotate(-90) scale(0.94,1)" text-anchor="end" style="font-family:'Liberation Sans',sans-serif;font-weight:bold;font-size:23.2px" fill="#000">HU</text>
<text transform="translate(604.3,1318.6) rotate(-90) scale(0.94,1)" text-anchor="end" style="font-family:'Liberation Sans',sans-serif;font-weight:bold;font-size:23.2px" fill="#000">MP</text>
<text transform="translate(641.0,1318.6) rotate(-90) scale(0.94,1)" text-anchor="end" style="font-family:'Liberation Sans',sans-serif;font-weight:bold;font-size:23.2px" fill="#000">SC</text>
<text transform="translate(677.6,1318.6) rotate(-90) scale(0.94,1)" text-anchor="end" style="font-family:'Liberation Sans',sans-serif;font-weight:bold;font-size:23.2px" fill="#000">dry<tspan dx="2">SC</tspan></text>
<line x1="80.3" y1="1468.2" x2="80.3" y2="1970.9" stroke="#000" stroke-width="3"/>
<line x1="74.5" y1="1969.40" x2="87.4" y2="1969.40" stroke="#000" stroke-width="3.2"/>
<line x1="74.5" y1="1918.90" x2="87.4" y2="1918.90" stroke="#000" stroke-width="3.2"/>
<line x1="74.5" y1="1870.50" x2="87.4" y2="1870.50" stroke="#000" stroke-width="3.2"/>
<line x1="74.5" y1="1819.25" x2="87.4" y2="1819.25" stroke="#000" stroke-width="3.2"/>
<line x1="74.5" y1="1770.50" x2="87.4" y2="1770.50" stroke="#000" stroke-width="3.2"/>
<line x1="74.5" y1="1719.70" x2="87.4" y2="1719.70" stroke="#000" stroke-width="3.2"/>
<line x1="74.5" y1="1669.00" x2="87.4" y2="1669.00" stroke="#000" stroke-width="3.2"/>
<line x1="74.5" y1="1620.00" x2="87.4" y2="1620.00" stroke="#000" stroke-width="3.2"/>
<line x1="74.5" y1="1569.50" x2="87.4" y2="1569.50" stroke="#000" stroke-width="3.2"/>
<line x1="74.5" y1="1520.30" x2="87.4" y2="1520.30" stroke="#000" stroke-width="3.2"/>
<line x1="74.5" y1="1469.70" x2="87.4" y2="1469.70" stroke="#000" stroke-width="3.2"/>
<text transform="translate(68.9,1478.6) scale(0.955,1)" text-anchor="end" style="font-family:'Liberation Sans',sans-serif;font-weight:bold;font-size:23.5px" fill="#000">2.0</text>
<text transform="translate(68.9,1732.1) scale(0.955,1)" text-anchor="end" style="font-family:'Liberation Sans',sans-serif;font-weight:bold;font-size:23.5px" fill="#000">1.0</text>
<text transform="translate(68.9,1978.9) scale(0.955,1)" text-anchor="end" style="font-family:'Liberation Sans',sans-serif;font-weight:bold;font-size:23.5px" fill="#000">0.0</text>
<text transform="translate(22.9,1825.6) rotate(-90)" style="font-family:'Liberation Sans',sans-serif;" fill="#000"><tspan style="font-weight:bold;font-size:31.3px">Sex Ratio</tspan><tspan dx="9" style="font-size:22px">(F/M)</tspan></text>
<line x1="117.4" y1="1555.4" x2="117.4" y2="1666.5" stroke="#000" stroke-width="2.8"/>
<line x1="117.4" y1="1757.6" x2="117.4" y2="1814.9" stroke="#000" stroke-width="2.8"/>
<line x1="112.2" y1="1555.4" x2="122.6" y2="1555.4" stroke="#000" stroke-width="2.9"/>
<line x1="112.2" y1="1814.9" x2="122.6" y2="1814.9" stroke="#000" stroke-width="2.9"/>
<rect x="108.40" y="1667.00" width="18.00" height="90.10" fill="#a1e6a8" stroke="#00a651" stroke-width="3.0"/>
<line x1="108.2" y1="1713.2" x2="126.6" y2="1713.2" stroke="#000" stroke-width="2.7"/>
<circle cx="117.4" cy="1706.0" r="6.3" fill="#000"/>
<text transform="translate(124.3,1548.6) rotate(-90)" style="font-family:'Liberation Sans',sans-serif;font-weight:bold;font-style:italic;font-size:27px" fill="#000">ab</text>
<line x1="154.1" y1="1610.9" x2="154.1" y2="1674.3" stroke="#000" stroke-width="2.8"/>
<line x1="154.1" y1="1765.4" x2="154.1" y2="1799.6" stroke="#000" stroke-width="2.8"/>
<line x1="148.9" y1="1610.9" x2="159.3" y2="1610.9" stroke="#000" stroke-width="2.9"/>
<line x1="148.9" y1="1799.6" x2="159.3" y2="1799.6" stroke="#000" stroke-width="2.9"/>
<rect x="145.09" y="1674.80" width="18.00" height="90.10" fill="#a1e6a8" stroke="#00a651" stroke-width="3.0"/>
<line x1="144.9" y1="1716.5" x2="163.3" y2="1716.5" stroke="#000" stroke-width="2.7"/>
<circle cx="154.1" cy="1719.4" r="6.3" fill="#000"/>
<text transform="translate(161.0,1604.1) rotate(-90)" style="font-family:'Liberation Sans',sans-serif;font-weight:bold;font-style:italic;font-size:27px" fill="#000">ab</text>
<line x1="190.8" y1="1666.3" x2="190.8" y2="1715.9" stroke="#000" stroke-width="2.8"/>
<line x1="190.8" y1="1772.5" x2="190.8" y2="1845.7" stroke="#000" stroke-width="2.8"/>
<line x1="185.6" y1="1666.3" x2="196.0" y2="1666.3" stroke="#000" stroke-width="2.9"/>
<line x1="185.6" y1="1845.7" x2="196.0" y2="1845.7" stroke="#000" stroke-width="2.9"/>
<rect x="181.78" y="1716.40" width="18.00" height="55.60" fill="#a1e6a8" stroke="#00a651" stroke-width="3.0"/>
<line x1="181.6" y1="1750.5" x2="200.0" y2="1750.5" stroke="#000" stroke-width="2.7"/>
<circle cx="190.8" cy="1753.4" r="6.3" fill="#000"/>
<text transform="translate(197.7,1659.5) rotate(-90)" style="font-family:'Liberation Sans',sans-serif;font-weight:bold;font-style:italic;font-size:27px" fill="#000">ab</text>
<line x1="227.5" y1="1616.9" x2="227.5" y2="1697.2" stroke="#000" stroke-width="2.8"/>
<line x1="227.5" y1="1751.4" x2="227.5" y2="1810.1" stroke="#000" stroke-width="2.8"/>
<line x1="222.3" y1="1616.9" x2="232.7" y2="1616.9" stroke="#000" stroke-width="2.9"/>
<line x1="222.3" y1="1810.1" x2="232.7" y2="1810.1" stroke="#000" stroke-width="2.9"/>
<rect x="218.47" y="1697.75" width="18.00" height="53.15" fill="#a1e6a8" stroke="#00a651" stroke-width="3.0"/>
<line x1="218.3" y1="1727.0" x2="236.7" y2="1727.0" stroke="#000" stroke-width="2.7"/>
<circle cx="227.5" cy="1723.8" r="6.3" fill="#000"/>
<text transform="translate(234.4,1610.1) rotate(-90)" style="font-family:'Liberation Sans',sans-serif;font-weight:bold;font-style:italic;font-size:27px" fill="#000">ab</text>
<line x1="264.2" y1="1688.6" x2="264.2" y2="1738.5" stroke="#000" stroke-width="2.8"/>
<line x1="264.2" y1="1804.1" x2="264.2" y2="1810.7" stroke="#000" stroke-width="2.8"/>
<line x1="259.0" y1="1688.6" x2="269.4" y2="1688.6" stroke="#000" stroke-width="2.9"/>
<line x1="259.0" y1="1810.7" x2="269.4" y2="1810.7" stroke="#000" stroke-width="2.9"/>
<rect x="255.36" y="1739.20" width="17.60" height="64.20" fill="#f29ec8" stroke="#e3007f" stroke-width="3.4"/>
<line x1="255.0" y1="1783.2" x2="273.4" y2="1783.2" stroke="#000" stroke-width="2.7"/>
<circle cx="264.2" cy="1768.8" r="6.3" fill="#000"/>
<text transform="translate(271.1,1681.8) rotate(-90)" style="font-family:'Liberation Sans',sans-serif;font-weight:bold;font-style:italic;font-size:27px" fill="#000">ab</text>
<line x1="300.9" y1="1613.7" x2="300.9" y2="1628.9" stroke="#000" stroke-width="2.8"/>
<line x1="300.9" y1="1701.7" x2="300.9" y2="1711.3" stroke="#000" stroke-width="2.8"/>
<line x1="295.7" y1="1613.7" x2="306.1" y2="1613.7" stroke="#000" stroke-width="2.9"/>
<line x1="295.7" y1="1711.3" x2="306.1" y2="1711.3" stroke="#000" stroke-width="2.9"/>
<rect x="292.05" y="1629.60" width="17.60" height="71.40" fill="#f29ec8" stroke="#e3007f" stroke-width="3.4"/>
<line x1="291.7" y1="1646.4" x2="310.1" y2="1646.4" stroke="#000" stroke-width="2.7"/>
<circle cx="300.9" cy="1684.9" r="6.3" fill="#000"/>
<text transform="translate(307.8,1606.9) rotate(-90)" style="font-family:'Liberation Sans',sans-serif;font-weight:bold;font-style:italic;font-size:27px" fill="#000">ab</text>
<line x1="337.5" y1="1673.2" x2="337.5" y2="1698.5" stroke="#000" stroke-width="2.8"/>
<line x1="337.5" y1="1775.8" x2="337.5" y2="1814.2" stroke="#000" stroke-width="2.8"/>
<line x1="332.3" y1="1673.2" x2="342.7" y2="1673.2" stroke="#000" stroke-width="2.9"/>
<line x1="332.3" y1="1814.2" x2="342.7" y2="1814.2" stroke="#000" stroke-width="2.9"/>
<rect x="328.74" y="1699.20" width="17.60" height="75.90" fill="#f29ec8" stroke="#e3007f" stroke-width="3.4"/>
<line x1="328.3" y1="1724.2" x2="346.7" y2="1724.2" stroke="#000" stroke-width="2.7"/>
<circle cx="337.5" cy="1745.3" r="6.3" fill="#000"/>
<text transform="translate(344.4,1666.4) rotate(-90)" style="font-family:'Liberation Sans',sans-serif;font-weight:bold;font-style:italic;font-size:27px" fill="#000">ab</text>
<line x1="374.2" y1="1621.4" x2="374.2" y2="1679.1" stroke="#000" stroke-width="2.8"/>
<line x1="374.2" y1="1764.5" x2="374.2" y2="1824.0" stroke="#000" stroke-width="2.8"/>
<line x1="369.0" y1="1621.4" x2="379.4" y2="1621.4" stroke="#000" stroke-width="2.9"/>
<line x1="369.0" y1="1824.0" x2="379.4" y2="1824.0" stroke="#000" stroke-width="2.9"/>
<rect x="365.43" y="1679.80" width="17.60" height="84.00" fill="#f29ec8" stroke="#e3007f" stroke-width="3.4"/>
<line x1="365.0" y1="1738.0" x2="383.4" y2="1738.0" stroke="#000" stroke-width="2.7"/>
<circle cx="374.2" cy="1732.3" r="6.3" fill="#000"/>
<text transform="translate(381.1,1614.6) rotate(-90)" style="font-family:'Liberation Sans',sans-serif;font-weight:bold;font-style:italic;font-size:27px" fill="#000">ab</text>
<line x1="410.9" y1="1488.6" x2="410.9" y2="1600.2" stroke="#000" stroke-width="2.8"/>
<line x1="410.9" y1="1745.9" x2="410.9" y2="1761.5" stroke="#000" stroke-width="2.8"/>
<line x1="405.7" y1="1488.6" x2="416.1" y2="1488.6" stroke="#000" stroke-width="2.9"/>
<line x1="405.7" y1="1761.5" x2="416.1" y2="1761.5" stroke="#000" stroke-width="2.9"/>
<rect x="401.97" y="1600.75" width="17.90" height="144.60" fill="#5679be" stroke="#392a94" stroke-width="3.1"/>
<line x1="401.7" y1="1680.5" x2="420.1" y2="1680.5" stroke="#000" stroke-width="2.7"/>
<circle cx="410.9" cy="1657.0" r="6.3" fill="#000"/>
<text transform="translate(417.8,1481.8) rotate(-90)" style="font-family:'Liberation Sans',sans-serif;font-weight:bold;font-style:italic;font-size:27px" fill="#000">b</text>
<line x1="447.6" y1="1564.6" x2="447.6" y2="1607.9" stroke="#000" stroke-width="2.8"/>
<line x1="447.6" y1="1754.7" x2="447.6" y2="1779.2" stroke="#000" stroke-width="2.8"/>
<line x1="442.4" y1="1564.6" x2="452.8" y2="1564.6" stroke="#000" stroke-width="2.9"/>
<line x1="442.4" y1="1779.2" x2="452.8" y2="1779.2" stroke="#000" stroke-width="2.9"/>
<rect x="438.66" y="1608.45" width="17.90" height="145.70" fill="#5679be" stroke="#392a94" stroke-width="3.1"/>
<line x1="438.4" y1="1631.5" x2="456.8" y2="1631.5" stroke="#000" stroke-width="2.7"/>
<circle cx="447.6" cy="1669.5" r="6.3" fill="#000"/>
<text transform="translate(454.5,1557.8) rotate(-90)" style="font-family:'Liberation Sans',sans-serif;font-weight:bold;font-style:italic;font-size:27px" fill="#000">b</text>
<line x1="484.3" y1="1693.5" x2="484.3" y2="1718.3" stroke="#000" stroke-width="2.8"/>
<line x1="484.3" y1="1783.5" x2="484.3" y2="1808.0" stroke="#000" stroke-width="2.8"/>
<line x1="479.1" y1="1693.5" x2="489.5" y2="1693.5" stroke="#000" stroke-width="2.9"/>
<line x1="479.1" y1="1808.0" x2="489.5" y2="1808.0" stroke="#000" stroke-width="2.9"/>
<rect x="475.35" y="1718.85" width="17.90" height="64.10" fill="#5679be" stroke="#392a94" stroke-width="3.1"/>
<line x1="475.1" y1="1746.9" x2="493.5" y2="1746.9" stroke="#000" stroke-width="2.7"/>
<circle cx="484.3" cy="1752.1" r="6.3" fill="#000"/>
<text transform="translate(491.2,1686.7) rotate(-90)" style="font-family:'Liberation Sans',sans-serif;font-weight:bold;font-style:italic;font-size:27px" fill="#000">ab</text>
<line x1="521.0" y1="1669.2" x2="521.0" y2="1706.2" stroke="#000" stroke-width="2.8"/>
<line x1="521.0" y1="1786.7" x2="521.0" y2="1809.3" stroke="#000" stroke-width="2.8"/>
<line x1="515.8" y1="1669.2" x2="526.2" y2="1669.2" stroke="#000" stroke-width="2.9"/>
<line x1="515.8" y1="1809.3" x2="526.2" y2="1809.3" stroke="#000" stroke-width="2.9"/>
<rect x="512.04" y="1706.75" width="17.90" height="79.40" fill="#5679be" stroke="#392a94" stroke-width="3.1"/>
<line x1="511.8" y1="1759.4" x2="530.2" y2="1759.4" stroke="#000" stroke-width="2.7"/>
<circle cx="521.0" cy="1735.9" r="6.3" fill="#000"/>
<text transform="translate(527.9,1662.4) rotate(-90)" style="font-family:'Liberation Sans',sans-serif;font-weight:bold;font-style:italic;font-size:27px" fill="#000">ab</text>
<line x1="557.7" y1="1720.0" x2="557.7" y2="1759.3" stroke="#000" stroke-width="2.8"/>
<line x1="557.7" y1="1811.3" x2="557.7" y2="1858.7" stroke="#000" stroke-width="2.8"/>
<line x1="552.5" y1="1720.0" x2="562.9" y2="1720.0" stroke="#000" stroke-width="2.9"/>
<line x1="552.5" y1="1858.7" x2="562.9" y2="1858.7" stroke="#000" stroke-width="2.9"/>
<rect x="548.78" y="1759.90" width="17.80" height="50.80" fill="#97d1ec" stroke="#00a5d8" stroke-width="3.2"/>
<line x1="548.5" y1="1783.2" x2="566.9" y2="1783.2" stroke="#000" stroke-width="2.7"/>
<circle cx="557.7" cy="1772.8" r="6.3" fill="#000"/>
<text transform="translate(564.6,1713.2) rotate(-90)" style="font-family:'Liberation Sans',sans-serif;font-weight:bold;font-style:italic;font-size:27px" fill="#000">a</text>
<line x1="594.4" y1="1628.7" x2="594.4" y2="1687.5" stroke="#000" stroke-width="2.8"/>
<line x1="594.4" y1="1752.4" x2="594.4" y2="1786.1" stroke="#000" stroke-width="2.8"/>
<line x1="589.2" y1="1628.7" x2="599.6" y2="1628.7" stroke="#000" stroke-width="2.9"/>
<line x1="589.2" y1="1786.1" x2="599.6" y2="1786.1" stroke="#000" stroke-width="2.9"/>
<rect x="585.47" y="1688.10" width="17.80" height="63.70" fill="#97d1ec" stroke="#00a5d8" stroke-width="3.2"/>
<line x1="585.2" y1="1708.9" x2="603.6" y2="1708.9" stroke="#000" stroke-width="2.7"/>
<circle cx="594.4" cy="1716.5" r="6.3" fill="#000"/>
<text transform="translate(601.3,1621.9) rotate(-90)" style="font-family:'Liberation Sans',sans-serif;font-weight:bold;font-style:italic;font-size:27px" fill="#000">ab</text>
<line x1="631.1" y1="1572.1" x2="631.1" y2="1668.4" stroke="#000" stroke-width="2.8"/>
<line x1="631.1" y1="1743.9" x2="631.1" y2="1795.8" stroke="#000" stroke-width="2.8"/>
<line x1="625.9" y1="1572.1" x2="636.3" y2="1572.1" stroke="#000" stroke-width="2.9"/>
<line x1="625.9" y1="1795.8" x2="636.3" y2="1795.8" stroke="#000" stroke-width="2.9"/>
<rect x="622.16" y="1669.00" width="17.80" height="74.30" fill="#97d1ec" stroke="#00a5d8" stroke-width="3.2"/>
<line x1="621.9" y1="1724.2" x2="640.3" y2="1724.2" stroke="#000" stroke-width="2.7"/>
<circle cx="631.1" cy="1703.9" r="6.3" fill="#000"/>
<text transform="translate(638.0,1565.3) rotate(-90)" style="font-family:'Liberation Sans',sans-serif;font-weight:bold;font-style:italic;font-size:27px" fill="#000">ab</text>
<line x1="667.7" y1="1651.4" x2="667.7" y2="1685.3" stroke="#000" stroke-width="2.8"/>
<line x1="667.7" y1="1746.3" x2="667.7" y2="1833.6" stroke="#000" stroke-width="2.8"/>
<line x1="662.5" y1="1651.4" x2="672.9" y2="1651.4" stroke="#000" stroke-width="2.9"/>
<line x1="662.5" y1="1833.6" x2="672.9" y2="1833.6" stroke="#000" stroke-width="2.9"/>
<rect x="658.85" y="1685.90" width="17.80" height="59.80" fill="#97d1ec" stroke="#00a5d8" stroke-width="3.2"/>
<line x1="658.5" y1="1703.3" x2="676.9" y2="1703.3" stroke="#000" stroke-width="2.7"/>
<circle cx="667.7" cy="1714.0" r="6.3" fill="#000"/>
<text transform="translate(674.6,1644.6) rotate(-90)" style="font-family:'Liberation Sans',sans-serif;font-weight:bold;font-style:italic;font-size:27px" fill="#000">ab</text>
<circle cx="67.8" cy="2002.6" r="7.95" fill="none" stroke="#000" stroke-width="3.6"/>
<line x1="67.7" y1="2011.6" x2="67.7" y2="2021.8" stroke="#000" stroke-width="3"/>
<line x1="61.5" y1="2015.5" x2="73.7" y2="2015.5" stroke="#000" stroke-width="3"/>
<circle cx="67.7" cy="2048.6" r="7.65" fill="none" stroke="#000" stroke-width="3.6"/>
<line x1="72.30" y1="2044.00" x2="79.30" y2="2037.00" stroke="#000" stroke-width="3.5"/>
<path d="M70.00 2037.70 L73.60 2034.50 L80.30 2034.50 L81.30 2035.50 L81.30 2042.30 L78.40 2045.50 L77.60 2038.60 Z" fill="#000"/>
<path d="M153.0 2002.9 L111.5 2002.9 A4.0 4.0 0 0 0 111.5 2010.9 L153.0 2010.9 Z" fill="#151717"/>
<path d="M199.0 2002.9 L241.0 2002.9 A4.0 4.0 0 0 1 241.0 2010.9 L199.0 2010.9 Z" fill="#151717"/>
<text x="176.3" y="2014.4" text-anchor="middle" style="font-family:'Liberation Sans',sans-serif;font-weight:bold;font-size:22px" fill="#000">HU</text>
<path d="M299.8 2002.9 L258.2 2002.9 A4.0 4.0 0 0 0 258.2 2010.9 L299.8 2010.9 Z" fill="#151717"/>
<path d="M345.2 2002.9 L387.2 2002.9 A4.0 4.0 0 0 1 387.2 2010.9 L345.2 2010.9 Z" fill="#151717"/>
<text x="322.65" y="2014.4" text-anchor="middle" style="font-family:'Liberation Sans',sans-serif;font-weight:bold;font-size:22px" fill="#000">MP</text>
<path d="M446.5 2002.9 L405.3 2002.9 A4.0 4.0 0 0 0 405.3 2010.9 L446.5 2010.9 Z" fill="#151717"/>
<path d="M492.6 2002.9 L533.3 2002.9 A4.0 4.0 0 0 1 533.3 2010.9 L492.6 2010.9 Z" fill="#151717"/>
<text x="469.3" y="2014.4" text-anchor="middle" style="font-family:'Liberation Sans',sans-serif;font-weight:bold;font-size:22px" fill="#000">SC</text>
<path d="M575.9 2002.9 L552.0 2002.9 A4.0 4.0 0 0 0 552.0 2010.9 L575.9 2010.9 Z" fill="#151717"/>
<path d="M655.3 2002.9 L680.0 2002.9 A4.0 4.0 0 0 1 680.0 2010.9 L655.3 2010.9 Z" fill="#151717"/>
<text x="616.15" y="2014.4" text-anchor="middle" style="font-family:'Liberation Sans',sans-serif;font-weight:bold;font-size:22px" fill="#000">dry SC</text>
<text transform="translate(127.3,2029.4) rotate(-90) scale(0.94,1)" text-anchor="end" style="font-family:'Liberation Sans',sans-serif;font-weight:bold;font-size:23.2px" fill="#000">HU</text>
<text transform="translate(164.0,2029.4) rotate(-90) scale(0.94,1)" text-anchor="end" style="font-family:'Liberation Sans',sans-serif;font-weight:bold;font-size:23.2px" fill="#000">MP</text>
<text transform="translate(200.7,2029.4) rotate(-90) scale(0.94,1)" text-anchor="end" style="font-family:'Liberation Sans',sans-serif;font-weight:bold;font-size:23.2px" fill="#000">SC</text>
<text transform="translate(237.4,2029.4) rotate(-90) scale(0.94,1)" text-anchor="end" style="font-family:'Liberation Sans',sans-serif;font-weight:bold;font-size:23.2px" fill="#000">dry<tspan dx="2">SC</tspan></text>
<text transform="translate(274.1,2029.4) rotate(-90) scale(0.94,1)" text-anchor="end" style="font-family:'Liberation Sans',sans-serif;font-weight:bold;font-size:23.2px" fill="#000">HU</text>
<text transform="translate(310.8,2029.4) rotate(-90) scale(0.94,1)" text-anchor="end" style="font-family:'Liberation Sans',sans-serif;font-weight:bold;font-size:23.2px" fill="#000">MP</text>
<text transform="translate(347.4,2029.4) rotate(-90) scale(0.94,1)" text-anchor="end" style="font-family:'Liberation Sans',sans-serif;font-weight:bold;font-size:23.2px" fill="#000">SC</text>
<text transform="translate(384.1,2029.4) rotate(-90) scale(0.94,1)" text-anchor="end" style="font-family:'Liberation Sans',sans-serif;font-weight:bold;font-size:23.2px" fill="#000">dry<tspan dx="2">SC</tspan></text>
<text transform="translate(420.8,2033.8) rotate(-90) scale(0.94,1)" text-anchor="end" style="font-family:'Liberation Sans',sans-serif;font-weight:bold;font-size:23.2px" fill="#000">HU</text>
<text transform="translate(457.5,2033.8) rotate(-90) scale(0.94,1)" text-anchor="end" style="font-family:'Liberation Sans',sans-serif;font-weight:bold;font-size:23.2px" fill="#000">MP</text>
<text transform="translate(494.2,2033.8) rotate(-90) scale(0.94,1)" text-anchor="end" style="font-family:'Liberation Sans',sans-serif;font-weight:bold;font-size:23.2px" fill="#000">SC</text>
<text transform="translate(530.9,2033.8) rotate(-90) scale(0.94,1)" text-anchor="end" style="font-family:'Liberation Sans',sans-serif;font-weight:bold;font-size:23.2px" fill="#000">dry<tspan dx="2">SC</tspan></text>
<text transform="translate(567.6,2029.4) rotate(-90) scale(0.94,1)" text-anchor="end" style="font-family:'Liberation Sans',sans-serif;font-weight:bold;font-size:23.2px" fill="#000">HU</text>
<text transform="translate(604.3,2029.4) rotate(-90) scale(0.94,1)" text-anchor="end" style="font-family:'Liberation Sans',sans-serif;font-weight:bold;font-size:23.2px" fill="#000">MP</text>
<text transform="translate(641.0,2029.4) rotate(-90) scale(0.94,1)" text-anchor="end" style="font-family:'Liberation Sans',sans-serif;font-weight:bold;font-size:23.2px" fill="#000">SC</text>
<text transform="translate(677.6,2029.4) rotate(-90) scale(0.94,1)" text-anchor="end" style="font-family:'Liberation Sans',sans-serif;font-weight:bold;font-size:23.2px" fill="#000">dry<tspan dx="2">SC</tspan></text>
</svg>
</body></html>
